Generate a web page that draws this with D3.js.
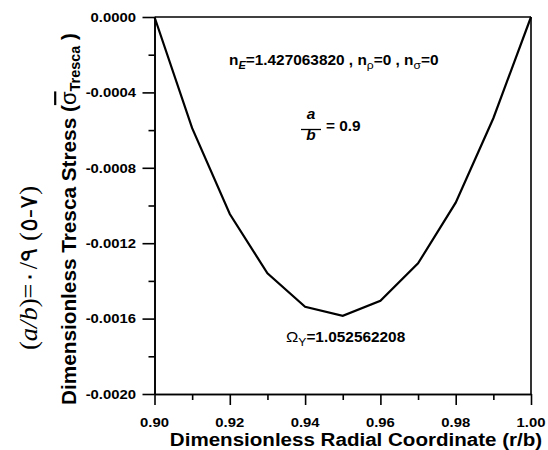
<!DOCTYPE html>
<html>
<head>
<meta charset="utf-8">
<script src="https://cdn.jsdelivr.net/npm/d3@7/dist/d3.min.js"></script>
<style>
  body { margin: 0; background: #fff; }
  svg { display: block; }
  text { font-family: "Liberation Sans", Arial, sans-serif; fill: #000; }
</style>
</head>
<body>
<svg id="chart" width="548" height="450"></svg>
<script>
// ---- data ----
const radialCoord = [0.90, 0.91, 0.92, 0.93, 0.94, 0.95, 0.96, 0.97, 0.98, 0.99, 1.00];
const trescaStress = [0, -0.00059, -0.001045, -0.00136, -0.001537, -0.001585, -0.001505, -0.001307, -0.000985, -0.000537, 0];
const xMajorTicks = [0.90, 0.92, 0.94, 0.96, 0.98, 1.00];
const xMinorTicks = [0.91, 0.93, 0.95, 0.97, 0.99];
const yMajorTicks = [0, -0.0004, -0.0008, -0.0012, -0.0016, -0.0020];
const yMinorTicks = [-0.0002, -0.0006, -0.0010, -0.0014, -0.0018];
const xTickLabels = ["0.90", "0.92", "0.94", "0.96", "0.98", "1.00"];
const yTickLabels = ["0.0000", "-0.0004", "-0.0008", "-0.0012", "-0.0016", "-0.0020"];

const svg = d3.select("#chart");
const L = 154.5, R = 531, T = 17, B = 394;
const x = d3.scaleLinear().domain([0.90, 1.00]).range([L, R]);
const y = d3.scaleLinear().domain([0, -0.0020]).range([T, B]);
const SX = 1.1;

// axes
const gx = svg.append("g").attr("transform", `translate(0,${B})`)
  .call(d3.axisBottom(x).tickValues(xMajorTicks).tickSize(11).tickSizeOuter(0).tickFormat(""));
const gxm = svg.append("g").attr("transform", `translate(0,${B})`)
  .call(d3.axisBottom(x).tickValues(xMinorTicks).tickSize(6).tickSizeOuter(0).tickFormat(""));
const gy = svg.append("g").attr("transform", `translate(${L},0)`)
  .call(d3.axisLeft(y).tickValues(yMajorTicks).tickSize(12).tickSizeOuter(0).tickFormat(""));
const gym = svg.append("g").attr("transform", `translate(${L},0)`)
  .call(d3.axisLeft(y).tickValues(yMinorTicks).tickSize(6).tickSizeOuter(0).tickFormat(""));
[gx, gxm, gy, gym].forEach(g => {
  g.selectAll("path.domain").attr("stroke", "#000").attr("stroke-width", 1.6);
  g.selectAll(".tick line").attr("stroke", "#000").attr("stroke-width", 1.6);
});
// frame top and right
svg.append("line").attr("x1", L).attr("x2", R).attr("y1", T).attr("y2", T)
  .attr("stroke", "#000").attr("stroke-width", 1.6);
svg.append("line").attr("x1", R).attr("x2", R).attr("y1", T).attr("y2", B)
  .attr("stroke", "#000").attr("stroke-width", 1.6);

// tick labels
xMajorTicks.forEach((v, i) => {
  svg.append("text")
    .attr("transform", `translate(${x(v)},427) scale(${SX},1)`)
    .attr("text-anchor", "middle").attr("font-size", 13.5).attr("font-weight", "bold")
    .text(xTickLabels[i]);
});
yMajorTicks.forEach((v, i) => {
  svg.append("text")
    .attr("transform", `translate(136,${y(v) + 4.8}) scale(${SX},1)`)
    .attr("text-anchor", "end").attr("font-size", 13.5).attr("font-weight", "bold")
    .text(yTickLabels[i]);
});

// axis titles
svg.append("text")
  .attr("transform", `translate(356,446) scale(${SX},1)`)
  .attr("text-anchor", "middle").attr("font-size", 18.7).attr("font-weight", "bold")
  .text("Dimensionless Radial Coordinate (r/b)");

const yt = svg.append("text")
  .attr("transform", `translate(76,219) scale(${SX},1) rotate(-90) scale(1.11,1)`)
  .attr("text-anchor", "middle").attr("font-size", 18.7).attr("font-weight", "bold");
yt.append("tspan").text("Dimensionless Tresca Stress (");
yt.append("tspan").attr("font-weight", "normal").attr("font-size", 20)
  .style("text-decoration", "overline").text("σ");
yt.append("tspan").attr("font-size", 13).attr("dy", 4).text("Tresca");
yt.append("tspan").attr("dy", -4).text(" )");

// left serif caption
const cap = svg.append("text")
  .attr("transform", `translate(37,268) scale(${SX},1) rotate(-90) scale(1.15,1)`)
  .attr("text-anchor", "middle").attr("font-size", 23)
  .style("font-family", "'Liberation Serif', 'Times New Roman', serif")
  .style("direction", "ltr").style("unicode-bidi", "bidi-override");
cap.append("tspan").text("(");
cap.append("tspan").attr("font-style", "italic").text("a/b");
cap.append("tspan").text(")=\u0660/\u0669 (\u0665-\u0667)");

// curve
const line = d3.line().x((d, i) => x(radialCoord[i])).y(d => y(d));
svg.append("path").datum(trescaStress)
  .attr("d", line).attr("fill", "none").attr("stroke", "#000").attr("stroke-width", 2.2)
  .attr("stroke-linejoin", "miter");

// annotations
const nt = svg.append("text")
  .attr("transform", `translate(229,65) scale(${SX},1)`)
  .attr("font-size", 14).attr("font-weight", "bold");
nt.append("tspan").text("n");
nt.append("tspan").attr("font-size", 10).attr("font-style", "italic").attr("dy", 4).text("E");
nt.append("tspan").attr("dy", -4).text("=1.427063820 , n");
nt.append("tspan").attr("font-size", 11).attr("font-weight", "normal").attr("dy", 4).text("ρ");
nt.append("tspan").attr("dy", -4).text("=0 , n");
nt.append("tspan").attr("font-size", 11).attr("font-weight", "normal").attr("dy", 4).text("σ");
nt.append("tspan").attr("dy", -4).text("=0");

svg.append("text").attr("transform", `translate(311,118.5) scale(${SX},1)`)
  .attr("text-anchor", "middle").attr("font-size", 14).attr("font-weight", "bold")
  .attr("font-style", "italic").text("a");
svg.append("line").attr("x1", 301).attr("x2", 321).attr("y1", 129.5).attr("y2", 129.5)
  .attr("stroke", "#000").attr("stroke-width", 1.3);
svg.append("text").attr("transform", `translate(311,140) scale(${SX},1)`)
  .attr("text-anchor", "middle").attr("font-size", 14).attr("font-weight", "bold")
  .attr("font-style", "italic").text("b");
svg.append("text").attr("transform", `translate(326,130.5) scale(${SX},1)`)
  .attr("font-size", 14).attr("font-weight", "bold").text("= 0.9");

const om = svg.append("text")
  .attr("transform", `translate(286,341.5) scale(${SX},1)`)
  .attr("font-size", 14).attr("font-weight", "bold");
om.append("tspan").attr("font-weight", "normal").attr("font-size", 15).text("Ω");
om.append("tspan").attr("font-weight", "normal").attr("font-size", 11).attr("dy", 4).text("Y");
om.append("tspan").attr("dy", -4).text("=1.052562208");
</script>
</body>
</html>
